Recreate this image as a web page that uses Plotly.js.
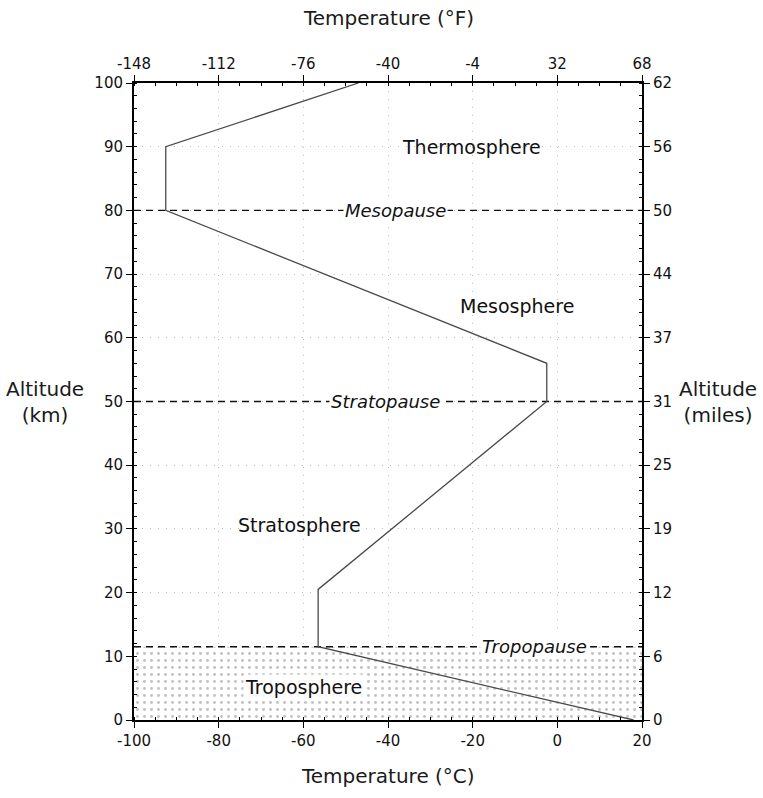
<!DOCTYPE html>
<html>
<head>
<meta charset="utf-8">
<script src="https://cdn.plot.ly/plotly-3.0.1.min.js"></script>
<style>html,body{margin:0;padding:0;background:#fff;}#chart{width:763px;height:798px;}</style>
</head>
<body>
<div id="chart"></div>
<script>
// Temperature profile (°C vs km)
const tempC = [18, -56.5, -56.5, -2.5, -2.5, -92.5, -92.5, -47];
const altKm = [0, 11.5, 20.5, 50, 56, 80, 90, 100];

// Boundary (pause) levels
const boundaryNames = ['Mesopause', 'Stratopause', 'Tropopause'];
const boundaryKm = [80, 50, 11.5];
const boundaryLabelC = [-38.3, -40.5, -5.3];

// Layer labels
const layerNames = ['Thermosphere', 'Mesosphere', 'Stratosphere', 'Troposphere'];
const layerC = [-20.2, -9.5, -60.8, -60];
const layerKm = [90, 65, 30.6, 5.2];

// Axis ticks
const cTicks = [-100, -80, -60, -40, -20, 0, 20];
const fLabels = ['-148', '-112', '-76', '-40', '-4', '32', '68'];
const kmTicks = [0, 10, 20, 30, 40, 50, 60, 70, 80, 90, 100];
const mileLabels = ['0', '6', '12', '19', '25', '31', '37', '44', '50', '56', '62'];

const xRange = [-100, 20];
const yRange = [0, 100];
const font = 'DejaVu Sans, Liberation Sans, Arial, sans-serif';

const traces = [];
// troposphere stipple
traces.push({
  x: xRange, y: [boundaryKm[2], boundaryKm[2]],
  type: 'scatter', mode: 'lines', line: {width: 0},
  fill: 'tozeroy', fillcolor: 'rgba(0,0,0,0)',
  fillpattern: {shape: '.', fgcolor: '#c2c2c2', bgcolor: '#ffffff', size: 7, solidity: 0.14},
  hoverinfo: 'skip', showlegend: false
});
// dashed boundary lines
boundaryKm.forEach(k => {
  traces.push({
    x: xRange, y: [k, k], type: 'scatter', mode: 'lines',
    line: {color: '#111', width: 1.3, dash: '7px,5px'},
    hoverinfo: 'skip', showlegend: false
  });
});
// profile
traces.push({
  x: tempC, y: altKm, type: 'scatter', mode: 'lines',
  line: {color: '#4a4a4a', width: 1.3}, showlegend: false
});
// invisible trace for secondary axes
traces.push({
  x: xRange, y: yRange, xaxis: 'x2', yaxis: 'y2', type: 'scatter', mode: 'markers',
  marker: {opacity: 0}, hoverinfo: 'skip', showlegend: false
});

const annotations = [];
boundaryNames.forEach((n, i) => {
  annotations.push({
    x: boundaryLabelC[i], y: boundaryKm[i], xref: 'x', yref: 'y', text: n,
    xanchor: 'center', yanchor: 'middle',
    showarrow: false, font: {family: font, size: 18, color: '#111', style: 'italic'},
    bgcolor: '#ffffff', borderpad: 1
  });
});
layerNames.forEach((n, i) => {
  annotations.push({
    x: layerC[i], y: layerKm[i], xref: 'x', yref: 'y', text: n,
    xanchor: 'center', yanchor: 'middle',
    showarrow: false, font: {family: font, size: 19, color: '#111'},
    bgcolor: i === 3 ? 'rgba(255,255,255,0.85)' : 'rgba(0,0,0,0)'
  });
});
const titleFont = {family: font, size: 20, color: '#1a1a1a'};
annotations.push({x: -0.175, y: 0.5, xref: 'paper', yref: 'paper', text: 'Altitude<br>(km)',
  xanchor: 'center', yanchor: 'middle', showarrow: false, font: titleFont});
annotations.push({x: 1.15, y: 0.5, xref: 'paper', yref: 'paper', text: 'Altitude<br>(miles)',
  xanchor: 'center', yanchor: 'middle', showarrow: false, font: titleFont});
annotations.push({x: 0.5, y: 0, xref: 'paper', yref: 'paper', yshift: -56, text: 'Temperature (°C)',
  xanchor: 'center', yanchor: 'middle', showarrow: false, font: titleFont});
annotations.push({x: 0.5, y: 1, xref: 'paper', yref: 'paper', yshift: 65, text: 'Temperature (°F)',
  xanchor: 'center', yanchor: 'middle', showarrow: false, font: titleFont});

const axCommon = {
  showline: true, linecolor: '#000', linewidth: 2, mirror: false,
  ticks: 'outside', ticklen: 6, tickcolor: '#000', tickwidth: 1,
  tickfont: {family: font, size: 15, color: '#111'}, zeroline: false
};
const gridStyle = {showgrid: true, gridcolor: '#bdbdbd', griddash: '1px,7px', gridwidth: 1};

const layout = {
  width: 763, height: 798,
  margin: {l: 134, r: 121, t: 83, b: 78},
  paper_bgcolor: '#fff', plot_bgcolor: '#fff',
  showlegend: false,
  xaxis: Object.assign({}, axCommon, gridStyle, {
    range: xRange, tickvals: cTicks, ticktext: cTicks.map(String),
    minor: {dtick: 5, ticks: 'inside', ticklen: 3, tickcolor: '#000', showgrid: false}
  }),
  yaxis: Object.assign({}, axCommon, gridStyle, {
    range: yRange, tickvals: kmTicks, ticktext: kmTicks.map(String),
    minor: {dtick: 2, ticks: 'inside', ticklen: 3, tickcolor: '#000', showgrid: false}
  }),
  xaxis2: Object.assign({}, axCommon, {
    range: xRange, overlaying: 'x', side: 'top', anchor: 'y',
    tickvals: cTicks, ticktext: fLabels, showgrid: false,
    minor: {dtick: 5, ticks: 'inside', ticklen: 3, tickcolor: '#000', showgrid: false}
  }),
  yaxis2: Object.assign({}, axCommon, {
    range: yRange, overlaying: 'y', side: 'right', anchor: 'x',
    tickvals: kmTicks, ticktext: mileLabels, showgrid: false,
    minor: {dtick: 2, ticks: 'inside', ticklen: 3, tickcolor: '#000', showgrid: false}
  }),
  annotations: annotations
};

Plotly.newPlot('chart', traces, layout, {staticPlot: true, displayModeBar: false});
</script>
</body>
</html>
